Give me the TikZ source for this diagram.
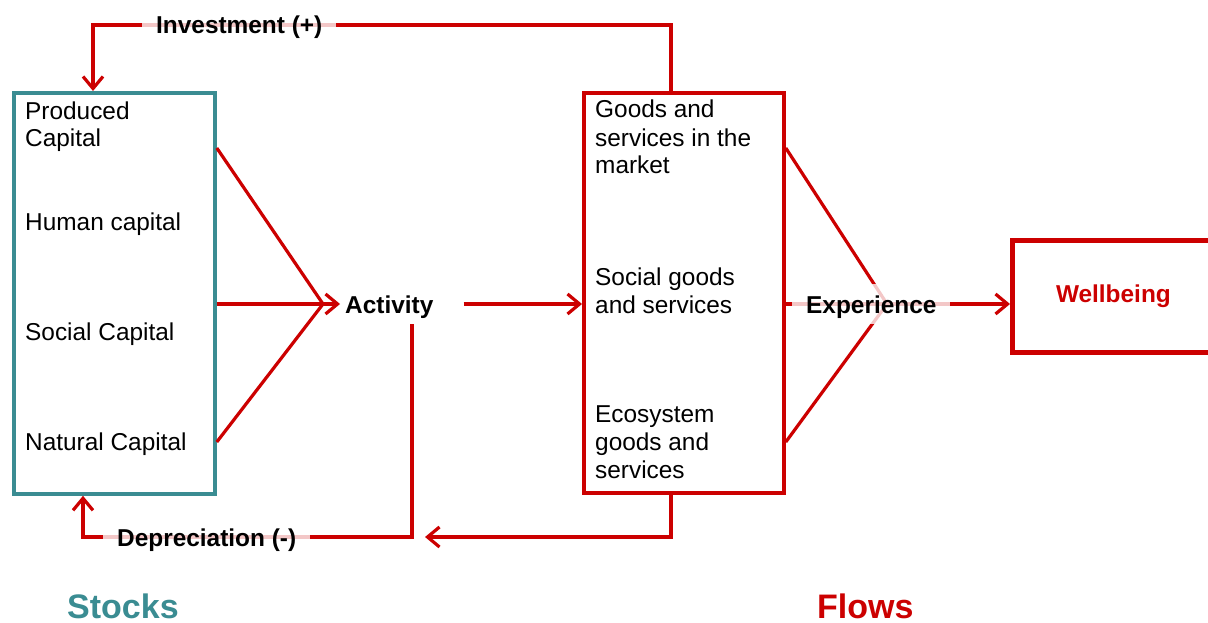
\documentclass[tikz,border=0pt]{standalone}
\usepackage{fontspec}
\setmainfont{Liberation Sans}
\usetikzlibrary{arrows.meta}
\definecolor{dred}{RGB}{204,0,0}
\definecolor{tealc}{RGB}{58,140,146}
\begin{document}
\begin{tikzpicture}[x=1pt,y=-1pt,
  conn/.style={draw=dred,line width=3.2pt},
  arr/.style={conn,-{Straight Barb[length=12pt,width=20pt]}},
  body/.style={font=\fontsize{24.4}{28}\selectfont, inner sep=0pt, anchor=base west, align=left},
  lab/.style={font=\bfseries\fontsize{24.4}{28}\selectfont, fill=white, fill opacity=0.78, text opacity=1, inner xsep=14pt, inner ysep=0pt, minimum height=40pt, anchor=west, text height=18pt, text depth=0pt},
  stockbox/.style={draw=tealc, line width=3.8pt, minimum width=201pt, minimum height=401pt, anchor=north west, inner sep=0pt},
  flowbox/.style={draw=dred, line width=3.8pt, minimum width=200pt, minimum height=400pt, anchor=north west, inner sep=0pt},
  wellbox/.style={draw=dred, line width=4.8pt, minimum width=202pt, minimum height=112pt, anchor=north west, inner sep=0pt, text=dred, font=\bfseries\fontsize{24.4}{28}\selectfont},
  title/.style={font=\bfseries\fontsize{34}{40}\selectfont, inner sep=0pt, anchor=base west}
]
\clip (0,0) rectangle (1208,623);
\fill[white] (0,0) rectangle (1208,623);

% boxes
\node[stockbox] (stocks) at (12,91) {};
\node[flowbox] (flows) at (582,91) {};
\node[wellbox] (wb) at (1010,238) {Wellbeing};

% stock texts (base = baseline of last line)
\node[body] (pc) at (25,147) {Produced\\Capital};
\node[body] (hc) at (25,230) {Human capital};
\node[body] (sc) at (25,340) {Social Capital};
\node[body] (nc) at (25,450) {Natural Capital};

% flow texts
\node[body] (gm) at (595,174) {Goods and\\services in the\\market};
\node[body] (sg) at (595,313) {Social goods\\and services};
\node[body] (eg) at (595,478) {Ecosystem\\goods and\\services};

% activity
\node[font=\bfseries\fontsize{24.4}{28}\selectfont, inner sep=5pt, anchor=west, text height=18pt, text depth=0pt] (act) at (340,304) {Activity};
\coordinate (cin) at (323,304);
\coordinate (cex) at (887,304);
\coordinate (deptip) at (425,537);

% converging lines to activity
\draw[conn] (stocks.east |- 0,148) -- (cin);
\draw[conn] (stocks.east |- cin) -- (cin);
\draw[conn] (stocks.east |- 0,442) -- (cin);
\draw[arr] (cin) -- (act.west);

% activity to flows
\draw[arr] ([xshift=25pt]act.east) -- (flows.west |- act.east);

% converging lines to experience
\draw[conn] (flows.east |- 0,148) -- (cex);
\draw[conn] (flows.east |- 0,442) -- (cex);
\draw[arr] (flows.east |- cex) -- (wb.west |- cex);

% investment loop
\draw[arr] (flows.north -| 671,0) -- (671,25) -| (stocks.north -| 93,0);

% depreciation loops
\draw[arr] ([yshift=-6pt]act.south -| 412,0) |- (83,537) -- (stocks.south -| 83,0);
\draw[arr] (flows.south -| 671,0) |- (deptip);

% labels
\node[lab] (inv) at (142,25) {Investment (+)\hspace{29pt}};
\node[lab] (dep) at (103,537) {Depreciation (-)\hspace{36pt}};
\node[lab] (exp) at (792,304) {Experience\hspace{33pt}};

% titles
\node[title, text=tealc] (stk) at (67,618) {Stocks};
\node[title, text=dred] (flw) at (817,618) {Flows};
\end{tikzpicture}
\end{document}
